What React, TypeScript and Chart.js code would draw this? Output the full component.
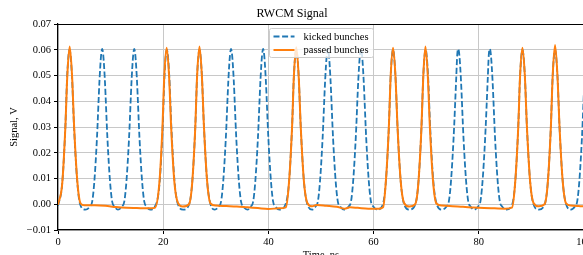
import React, { useEffect, useRef } from "react";
import { Chart, registerables } from "chart.js";

Chart.register(...registerables);

const chartTitle = "RWCM Signal";
const xLabel = "Time, ns";
const yLabel = "Signal, V";
const seriesNames = ["kicked bunches", "passed bunches"];

// kicked bunches (blue dashed) — time (ns) and signal (V)
const kickedTime = [
  0.0, 0.8, 1.4, 1.75, 2.2, 2.65, 3.05, 3.65, 4.2, 5.2,
  6.1, 6.5, 6.9, 7.4, 7.9, 8.2, 8.4, 8.6, 8.9, 9.4, 9.9, 10.3, 10.7, 11.4,
  12.2, 12.6, 13.0, 13.5, 14.0, 14.3, 14.5, 14.7, 15.0, 15.5, 16.0, 16.4, 16.8, 17.5,
  18.4, 19.3, 19.9, 20.25, 20.7, 21.15, 21.55, 22.15, 22.8, 23.8,
  24.9, 25.5, 26.1, 26.45, 26.9, 27.35, 27.75, 28.35, 29.0, 29.8,
  30.6, 31.0, 31.4, 31.9, 32.4, 32.7, 32.9, 33.1, 33.4, 33.9, 34.4, 34.8, 35.2, 36.0,
  36.7, 37.1, 37.5, 38.0, 38.5, 38.8, 39.0, 39.2, 39.5, 40.0, 40.5, 40.9, 41.3, 42.1,
  43.2, 43.9, 44.5, 44.85, 45.3, 45.75, 46.15, 46.75, 47.4, 48.3,
  49.0, 49.4, 49.8, 50.3, 50.8, 51.1, 51.3, 51.5, 51.8, 52.3, 52.8, 53.2, 53.6, 54.4,
  55.3, 55.7, 56.1, 56.6, 57.1, 57.4, 57.6, 57.8, 58.1, 58.6, 59.1, 59.5, 59.9, 60.7,
  61.7, 62.3, 62.9, 63.25, 63.7, 64.15, 64.55, 65.15, 65.8, 66.8,
  67.9, 68.5, 69.1, 69.45, 69.9, 70.35, 70.75, 71.35, 72.0, 73.0,
  73.9, 74.3, 74.7, 75.2, 75.7, 75.9, 76.1, 76.3, 76.6, 77.1, 77.6, 78.0, 78.4, 79.1,
  79.9, 80.3, 80.7, 81.2, 81.7, 81.9, 82.1, 82.3, 82.6, 83.1, 83.6, 84.0, 84.4, 85.2,
  86.3, 86.9, 87.5, 87.85, 88.3, 88.75, 89.15, 89.75, 90.4, 91.4,
  92.5, 93.1, 93.7, 94.05, 94.5, 94.95, 95.35, 95.95, 96.6, 97.5,
  98.3, 98.7, 99.1, 99.6, 100.1, 100.4, 100.6,
];
const kickedSignal = [
  -0.0006, 0.008, 0.03, 0.05, 0.06, 0.05, 0.03, 0.009, 0.0, -0.0021,
  -0.0008, 0.001, 0.0086, 0.0254, 0.0486, 0.058, 0.0603, 0.058, 0.0486, 0.0254, 0.0086, 0.001, -0.0008, -0.0021,
  -0.0008, 0.001, 0.0086, 0.0254, 0.0486, 0.058, 0.0603, 0.058, 0.0486, 0.0254, 0.0086, 0.001, -0.0008, -0.0021,
  -0.001, 0.008, 0.03, 0.05, 0.06, 0.05, 0.03, 0.009, 0.0, -0.0021,
  -0.0002, 0.008, 0.03, 0.05, 0.06, 0.05, 0.03, 0.009, 0.0, -0.0021,
  -0.0008, 0.001, 0.0086, 0.0254, 0.0486, 0.058, 0.0603, 0.058, 0.0486, 0.0254, 0.0086, 0.001, -0.0008, -0.0021,
  -0.0008, 0.001, 0.0086, 0.0254, 0.0486, 0.058, 0.0603, 0.058, 0.0486, 0.0254, 0.0086, 0.001, -0.0008, -0.0021,
  -0.0003, 0.008, 0.03, 0.05, 0.06, 0.05, 0.03, 0.009, 0.0, -0.0021,
  -0.0008, 0.001, 0.0086, 0.0254, 0.0486, 0.058, 0.0603, 0.058, 0.0486, 0.0254, 0.0086, 0.001, -0.0008, -0.0021,
  -0.0008, 0.001, 0.0086, 0.0254, 0.0486, 0.058, 0.0603, 0.058, 0.0486, 0.0254, 0.0086, 0.001, -0.0008, -0.0021,
  -0.0004, 0.008, 0.03, 0.05, 0.06, 0.05, 0.03, 0.009, 0.0, -0.0021,
  -0.0002, 0.008, 0.03, 0.05, 0.06, 0.05, 0.03, 0.009, 0.0, -0.0021,
  -0.0008, 0.001, 0.0086, 0.0254, 0.0486, 0.058, 0.0603, 0.058, 0.0486, 0.0254, 0.0086, 0.001, -0.0008, -0.0021,
  -0.0008, 0.001, 0.0086, 0.0254, 0.0486, 0.058, 0.0603, 0.058, 0.0486, 0.0254, 0.0086, 0.001, -0.0008, -0.0021,
  -0.0004, 0.008, 0.03, 0.05, 0.06, 0.05, 0.03, 0.009, 0.0, -0.0021,
  -0.0002, 0.008, 0.03, 0.05, 0.06, 0.05, 0.03, 0.009, 0.0, -0.0021,
  -0.0008, 0.001, 0.0086, 0.0254, 0.0486, 0.058, 0.0603,
];

// passed bunches (orange solid) — time (ns) and signal (V)
const passedTime = [
  0.0, 0.8, 1.4, 1.77, 2.22, 2.67, 3.07, 3.67, 4.3,
  5.0, 7.0, 9.0, 11.0, 13.0, 15.0, 17.0, 18.4,
  19.26, 19.86, 20.21, 20.66, 21.11, 21.51, 22.11, 22.8, 23.7,
  24.9, 25.5, 26.1, 26.45, 26.9, 27.35, 27.75, 28.35, 29.0,
  30.0, 32.0, 34.0, 36.0, 38.0, 40.0, 42.0, 43.3,
  43.9, 44.5, 44.85, 45.3, 45.75, 46.15, 46.75, 47.4, 48.3,
  49.2, 51.0, 53.0, 54.5, 55.5, 57.0, 59.0, 61.0, 61.8,
  62.3, 62.9, 63.25, 63.7, 64.15, 64.55, 65.15, 65.8, 66.8,
  67.9, 68.5, 69.1, 69.45, 69.85, 70.3, 70.7, 71.3, 71.95,
  73.0, 75.0, 77.0, 79.0, 81.0, 83.0, 85.0, 86.3,
  86.9, 87.5, 87.85, 88.3, 88.75, 89.15, 89.75, 90.4, 91.4,
  92.5, 93.1, 93.7, 94.05, 94.5, 94.95, 95.35, 95.95, 96.6,
  97.5, 99.0, 100.0, 101.0,
];
const passedSignal = [
  -0.0002, 0.008, 0.03, 0.05, 0.0613, 0.05, 0.03, 0.009, 0.0003,
  -0.0004, -0.0004, -0.0006, -0.0011, -0.0014, -0.0015, -0.0016, -0.0014,
  0.008, 0.03, 0.05, 0.0608, 0.05, 0.03, 0.009, 0.0005, -0.0009,
  0.0, 0.008, 0.03, 0.05, 0.0613, 0.05, 0.03, 0.009, 0.0003,
  -0.0005, -0.0007, -0.0009, -0.0012, -0.0015, -0.0018, -0.0016, -0.0012,
  0.008, 0.03, 0.05, 0.061, 0.05, 0.03, 0.009, 0.0005, -0.0008,
  -0.0003, -0.0006, -0.001, -0.0017, -0.0012, -0.0014, -0.0017, -0.0017, -0.0012,
  0.008, 0.03, 0.05, 0.0608, 0.05, 0.03, 0.009, 0.0005, -0.0009,
  0.0, 0.008, 0.03, 0.05, 0.0613, 0.05, 0.03, 0.009, 0.0003,
  -0.0005, -0.0008, -0.001, -0.0013, -0.0015, -0.0016, -0.0017, -0.0013,
  0.008, 0.03, 0.05, 0.0608, 0.05, 0.03, 0.009, 0.0005, -0.0008,
  0.0, 0.008, 0.03, 0.05, 0.0618, 0.05, 0.03, 0.009, 0.0003,
  -0.0005, -0.0007, -0.0008, -0.0008,
];

const xMin = 0;
const xMax = 100;
const xStep = 20;
const yMin = -0.01;
const yMax = 0.07;
const yStep = 0.01;

const BLUE = "#1f77b4";
const ORANGE = "#ff7f0e";
const FONT = "'Liberation Serif', 'Times New Roman', serif";

const framePlugin = {
  id: "frameAndLegend",
  afterDraw(chart: any) {
    const { ctx, chartArea } = chart;
    ctx.save();
    // top & right spines
    ctx.strokeStyle = "#000";
    ctx.lineWidth = 1;
    ctx.beginPath();
    ctx.moveTo(chartArea.left, chartArea.top + 0.5);
    ctx.lineTo(chartArea.right, chartArea.top + 0.5);
    ctx.lineTo(chartArea.right, chartArea.bottom);
    ctx.stroke();

    // legend box (upper center)
    const bw = 104;
    const bh = 29;
    const cx = (chartArea.left + chartArea.right) / 2;
    const bx = Math.round(cx - bw / 2) + 0.5;
    const by = chartArea.top + 4.5;
    ctx.fillStyle = "rgba(255,255,255,0.8)";
    ctx.strokeStyle = "#cccccc";
    ctx.lineWidth = 1;
    ctx.beginPath();
    const r = 2;
    ctx.moveTo(bx + r, by);
    ctx.lineTo(bx + bw - r, by);
    ctx.quadraticCurveTo(bx + bw, by, bx + bw, by + r);
    ctx.lineTo(bx + bw, by + bh - r);
    ctx.quadraticCurveTo(bx + bw, by + bh, bx + bw - r, by + bh);
    ctx.lineTo(bx + r, by + bh);
    ctx.quadraticCurveTo(bx, by + bh, bx, by + bh - r);
    ctx.lineTo(bx, by + r);
    ctx.quadraticCurveTo(bx, by, bx + r, by);
    ctx.closePath();
    ctx.fill();
    ctx.stroke();

    const rows = [
      { label: seriesNames[0], color: BLUE, dash: [6, 2.6], width: 1.8 },
      { label: seriesNames[1], color: ORANGE, dash: [], width: 2 },
    ];
    ctx.font = `10.5px ${FONT}`;
    ctx.textBaseline = "middle";
    ctx.textAlign = "left";
    rows.forEach((row, i) => {
      const y = by + 8 + i * 13.5;
      ctx.strokeStyle = row.color;
      ctx.lineWidth = row.width;
      ctx.setLineDash(row.dash);
      ctx.beginPath();
      ctx.moveTo(bx + 4, y);
      ctx.lineTo(bx + 25, y);
      ctx.stroke();
      ctx.setLineDash([]);
      ctx.fillStyle = "#000";
      ctx.fillText(row.label, bx + 34, y + 0.5);
    });
    ctx.restore();
  },
};

export default function App() {
  const ref = useRef<HTMLCanvasElement | null>(null);

  useEffect(() => {
    if (!ref.current) return;
    const kicked = kickedTime.map((t, i) => ({ x: t, y: kickedSignal[i] }));
    const passed = passedTime.map((t, i) => ({ x: t, y: passedSignal[i] }));
    const chart = new Chart(ref.current, {
      type: "line",
      data: {
        datasets: [
          {
            label: seriesNames[0],
            data: kicked,
            borderColor: BLUE,
            borderWidth: 1.8,
            borderDash: [6, 2.6],
            pointRadius: 0,
            fill: false,
            cubicInterpolationMode: "monotone",
            order: 1,
          },
          {
            label: seriesNames[1],
            data: passed,
            borderColor: ORANGE,
            borderWidth: 2,
            pointRadius: 0,
            fill: false,
            cubicInterpolationMode: "monotone",
            order: 0,
          },
        ],
      },
      plugins: [framePlugin],
      options: {
        responsive: false,
        animation: false,
        events: [],
        layout: { padding: { left: 0, right: 36, top: 0, bottom: 0 } },
        plugins: {
          legend: { display: false },
          tooltip: { enabled: false },
          title: {
            display: true,
            text: chartTitle,
            color: "#000",
            font: { family: FONT, size: 12, weight: "normal", lineHeight: 1.2 },
            padding: { top: 6.8, bottom: 2.8 },
          },
        },
        scales: {
          x: {
            type: "linear",
            min: xMin,
            max: xMax,
            afterFit: (scale: any) => {
              scale.height = 35;
            },
            ticks: {
              stepSize: xStep,
              color: "#000",
              padding: 2,
              maxRotation: 0,
              font: { family: FONT, size: 10.5 },
              callback: (v: any) => String(v),
            },
            grid: {
              color: "#c8c8c8",
              lineWidth: 1,
              tickColor: "#000",
              tickLength: 4,
              tickWidth: 1,
            },
            border: { display: true, color: "#000", width: 1.2 },
            title: {
              display: true,
              text: xLabel,
              color: "#000",
              font: { family: FONT, size: 10.5, lineHeight: 1.2 },
              padding: { top: 0, bottom: 3 },
            },
          },
          y: {
            type: "linear",
            min: yMin,
            max: yMax,
            afterFit: (scale: any) => {
              scale.width = 58;
            },
            ticks: {
              stepSize: yStep,
              color: "#000",
              padding: 3,
              font: { family: FONT, size: 10.5 },
              callback: (v: any) => Number(v).toFixed(2).replace("-", "\u2212"),
            },
            grid: {
              color: "#c8c8c8",
              lineWidth: 1,
              tickColor: "#000",
              tickLength: 4,
              tickWidth: 1,
            },
            border: { display: true, color: "#000", width: 1.2 },
            title: {
              display: true,
              text: yLabel,
              color: "#000",
              font: { family: FONT, size: 10.5, lineHeight: 1.2 },
              padding: { top: 8, bottom: 0 },
            },
          },
        },
      },
    } as any);
    return () => chart.destroy();
  }, []);

  return (
    <div
      style={{
        position: "fixed",
        left: 0,
        top: 0,
        width: 583,
        height: 255,
        overflow: "hidden",
        background: "#fff",
      }}
    >
      <canvas ref={ref} width={620} height={265} style={{ width: 620, height: 265, display: "block" }} />
    </div>
  );
}
